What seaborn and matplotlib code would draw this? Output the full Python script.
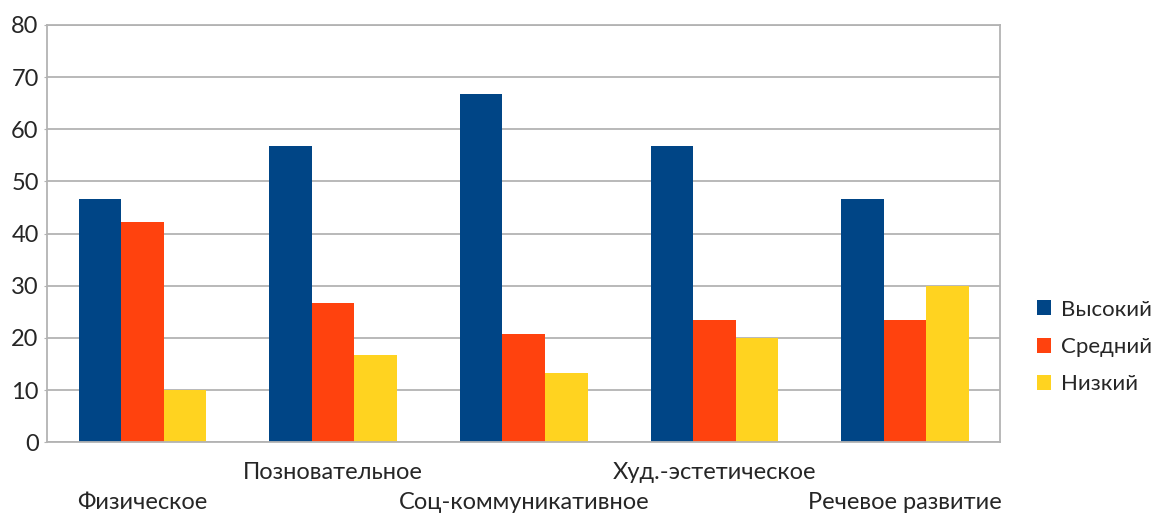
import numpy as np
import pandas as pd
import matplotlib
matplotlib.use("Agg")
import matplotlib.pyplot as plt
import seaborn as sns

# Данные
areas = ["Физическое", "Позновательное", "Соц-коммуникативное",
         "Худ.-эстетическое", "Речевое развитие"]
levels = ["Высокий", "Средний", "Низкий"]
high = [46.6, 56.7, 66.7, 56.7, 46.6]
mid = [42.3, 26.7, 20.7, 23.4, 23.4]
low = [10.0, 16.7, 13.3, 20.0, 30.0]
colors = ["#004586", "#ff420e", "#ffd320"]

df = pd.DataFrame({
    "area": areas * 3,
    "level": [levels[0]] * 5 + [levels[1]] * 5 + [levels[2]] * 5,
    "value": high + mid + low,
})

sns.set_style("white")
plt.rcParams["font.family"] = ["Lato", "DejaVu Sans"]

fig = plt.figure(figsize=(11.62, 5.19), dpi=100)
ax = fig.add_axes([0.0405, 0.148, 0.8205, 0.804])

sns.barplot(data=df, x="area", y="value", hue="level", order=areas,
            hue_order=levels, palette=colors, saturation=1, width=0.67,
            linewidth=0, ax=ax)

ax.set_ylim(0, 80)
ax.set_xlim(-0.5, 4.5)
ax.set_yticks(np.arange(0, 81, 10))
ax.yaxis.grid(True, color="#b3b3b3", linewidth=1.3)
ax.set_axisbelow(True)
for s in ax.spines.values():
    s.set_color("#b3b3b3")
    s.set_linewidth(1.3)

ax.set_xlabel("")
ax.set_ylabel("")

fs = 17
# подписи в два ряда
top_idx = [1, 3]
bot_idx = [0, 2, 4]
ax.set_xticks(top_idx)
ax.set_xticklabels([areas[i] for i in top_idx])
ax.set_xticks(bot_idx, minor=True)
ax.set_xticklabels([areas[i] for i in bot_idx], minor=True)
ax.tick_params(axis="x", which="major", length=0, pad=14, labelsize=fs)
ax.tick_params(axis="x", which="minor", length=0, pad=36, labelsize=fs)
ax.tick_params(axis="y", length=2, color="#b3b3b3", pad=4, labelsize=fs, left=True)

ax.legend(loc="center left", bbox_to_anchor=(1.022, 0.228), frameon=False,
          fontsize=16, handlelength=0.65, handleheight=0.65, handletextpad=0.45,
          labelspacing=0.78, borderaxespad=0.3)

fig.savefig("out.png", dpi=100)
